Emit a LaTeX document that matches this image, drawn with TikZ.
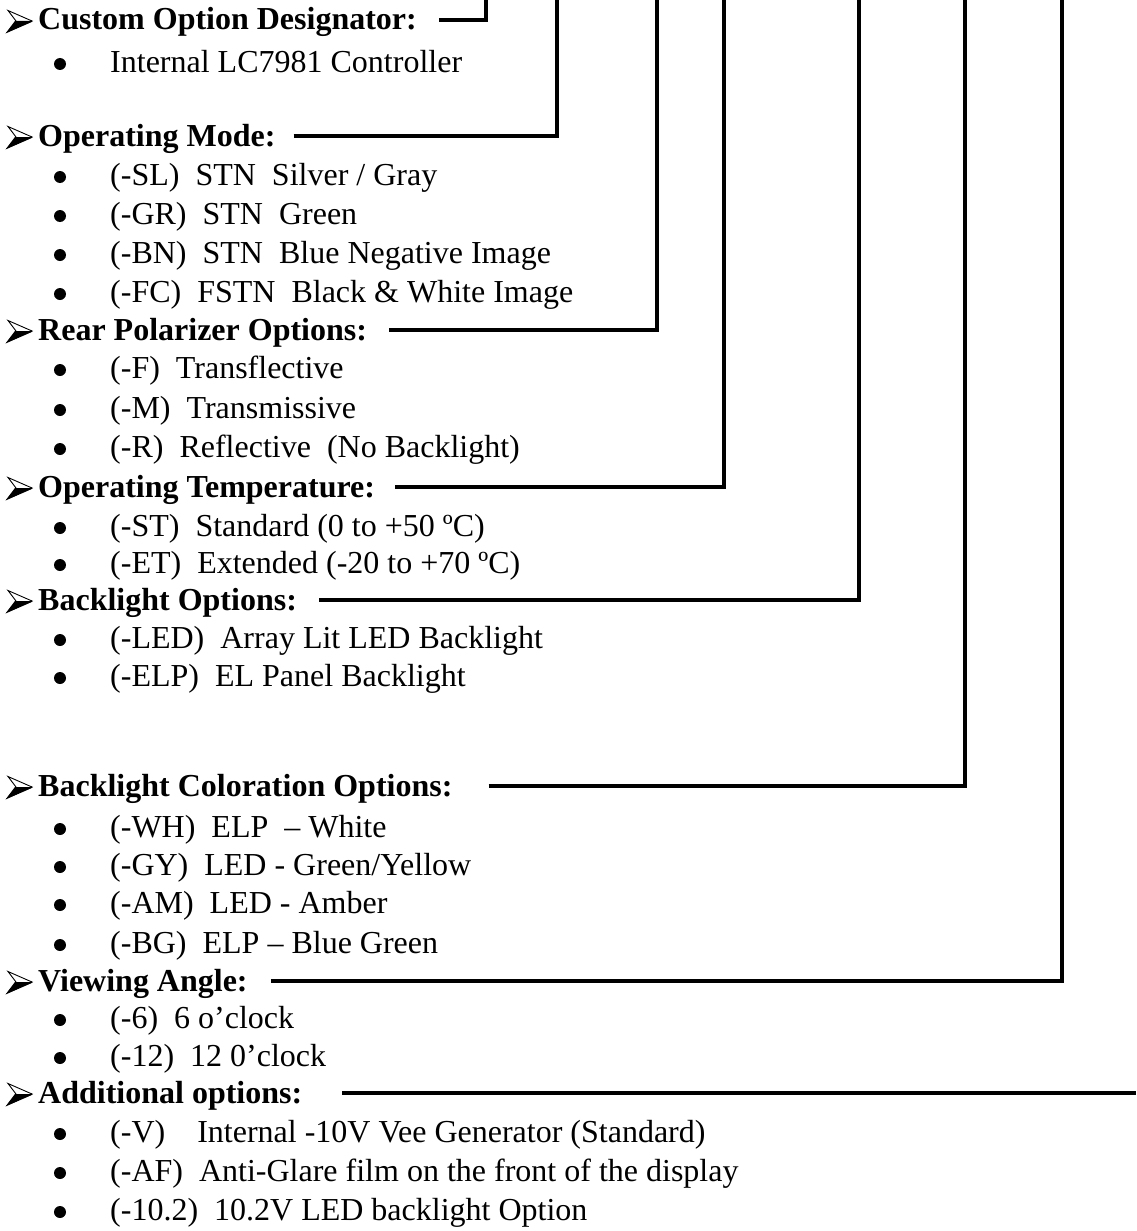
\documentclass[tikz,border=0pt]{standalone}
\usepackage{fontspec}
\setmainfont{Liberation Serif}
\usetikzlibrary{calc}
\begin{document}
\begin{tikzpicture}[x=1pt,y=1pt,
  head/.style={anchor=base west, inner sep=0pt, font=\fontsize{32}{38}\selectfont\bfseries},
  item/.style={anchor=base west, inner sep=0pt, font=\fontsize{32}{38}\selectfont},
  bul/.style={circle, fill=black, inner sep=0pt, minimum size=12pt},
  conn/.style={line width=4pt, line join=miter},
  headarrow/.pic={
    \fill[black] (0,0) -- (-24,-10.5) -- (-16,0) -- cycle;
    \draw[line width=0.9pt, line join=miter] (0,0) -- (-24,10.5) -- (-16,0) -- (-24,-10.5) -- cycle;
    \draw[line width=1.6pt, line join=miter] (0,0) -- (-24,-10.5) -- (-16,0);
  }
]
\useasboundingbox (0,0) rectangle (1136,-1231);

% headings: name / text / centre y
\foreach \n/\t/\yy in {
  h1/{Custom Option Designator:}/20,
  h2/{Operating Mode:}/136,
  h3/{Rear Polarizer Options:}/330,
  h4/{Operating Temperature:}/487,
  h5/{Backlight Options:}/600,
  h6/{Backlight Coloration Options:}/786,
  h7/{Viewing Angle:}/981,
  h8/{Additional options:}/1093}{
  \node[head] (\n) at (38,-\yy-10) {\t};
  \pic at (32,-\yy-1) {headarrow};
}

% items: name / text / centre y
\foreach \n/\t/\yy in {
  i1/{Internal LC7981 Controller}/62,
  i2/{(-SL)\ \ STN\ \ Silver / Gray}/175,
  i3/{(-GR)\ \ STN\ \ Green}/214,
  i4/{(-BN)\ \ STN\ \ Blue Negative Image}/253,
  i5/{(-FC)\ \ FSTN\ \ Black \& White Image}/292,
  i6/{(-F)\ \ Transflective}/368,
  i7/{(-M)\ \ Transmissive}/408,
  i8/{(-R)\ \ Reflective\ \ (No Backlight)}/447,
  i9/{(-ST)\ \ Standard (0 to +50 ºC)}/526,
  i10/{(-ET)\ \ Extended (-20 to +70 ºC)}/563,
  i11/{(-LED)\ \ Array Lit LED Backlight}/638,
  i12/{(-ELP)\ \ EL Panel Backlight}/676,
  i13/{(-WH)\ \ ELP\ \ – White}/827,
  i14/{(-GY)\ \ LED - Green/Yellow}/865,
  i15/{(-AM)\ \ LED - Amber}/903,
  i16/{(-BG)\ \ ELP – Blue Green}/943,
  i17/{(-6)\ \ 6 o’clock}/1018,
  i18/{(-12)\ \ 12 0’clock}/1056,
  i19/{(-V)\ \ \ \ Internal -10V Vee Generator (Standard)}/1132,
  i20/{(-AF)\ \ Anti-Glare film on the front of the display}/1171,
  i21/{(-10.2)\ \ 10.2V LED backlight Option}/1210}{
  \node[item] (\n) at (110,-\yy-10) {\t};
  \node[bul] (b\n) at (60,-\yy-2) {};
}

% connector ends
\coordinate (th1) at (486,0);
\coordinate (th2) at (557,0);
\coordinate (th3) at (657,0);
\coordinate (th4) at (724,0);
\coordinate (th5) at (859,0);
\coordinate (th6) at (965,0);
\coordinate (th7) at (1062,0);
\coordinate (th8) at (1136,-1093);

\foreach \n/\g in {h1/22,h2/18,h3/22,h4/20,h5/22,h6/36,h7/23}{
  \draw[conn] ($(\n.base east)+(\g,10)$) -| (t\n);
}
\draw[conn] ($(h8.base east)+(40,10)$) -- (th8);
\end{tikzpicture}
\end{document}
